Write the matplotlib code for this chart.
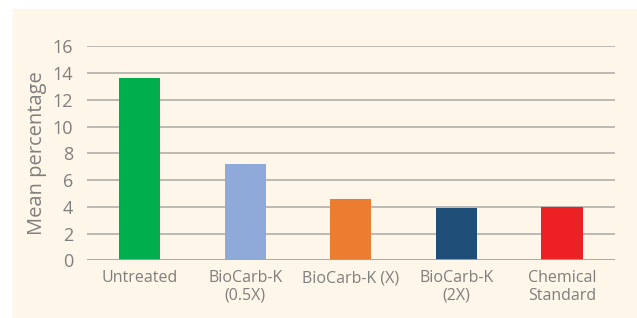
import matplotlib
matplotlib.use("Agg")
import matplotlib.pyplot as plt
from matplotlib.patches import Rectangle

categories = ["Untreated", "BioCarb-K\n(0.5X)", "BioCarb-K (X)", "BioCarb-K\n(2X)", "Chemical\nStandard"]
values = [13.63, 7.2, 4.58, 3.91, 3.99]
colors = ["#00ae4d", "#8faad8", "#ec7c30", "#1f4e79", "#ed2024"]
yticks = [0, 2, 4, 6, 8, 10, 12, 14, 16]

plt.rcParams['font.family'] = ['Open Sans', 'DejaVu Sans']
W, H = 637, 318
fig = plt.figure(figsize=(W/100, H/100), dpi=100)
fig.patch.set_facecolor("white")

bgax = fig.add_axes([13/W, 0, 1 - 13/W, 1 - 9/H], zorder=-1)
bgax.set_axis_off()
bgax.add_patch(Rectangle((0, 0), 1, 1, transform=bgax.transAxes,
                         facecolor="#fef6e8", edgecolor="none"))

ax = fig.add_axes([87/W, 1 - 260.3/H, (614.7-87)/W, (260.3-46.3)/H], zorder=1)
ax.patch.set_alpha(0)
x = range(len(categories))
ax.bar(x, values, width=0.39, color=colors, zorder=3)
ax.set_xlim(-0.5, len(categories) - 0.5)
ax.set_ylim(0, 16)
ax.set_yticks(yticks)
ax.yaxis.grid(True, color="#b0aeaa", linewidth=1.2, zorder=0)
ax.set_axisbelow(True)
for s in ax.spines.values():
    s.set_visible(False)
ax.axhline(0, color="#a8a8a8", linewidth=1.2, zorder=4)
ax.tick_params(axis="both", length=0, colors="#7f7f7f")
ax.tick_params(axis="y", pad=10, labelsize=13)
ax.tick_params(axis="x", pad=7, labelsize=11.5)
ax.set_xticks(list(x))
ax.set_xticklabels(categories, linespacing=1.15)
ax.set_ylabel("Mean percentage", color="#7f7f7f", fontsize=14.5, labelpad=4)
fig.savefig("out.png", dpi=100, facecolor=fig.get_facecolor())
